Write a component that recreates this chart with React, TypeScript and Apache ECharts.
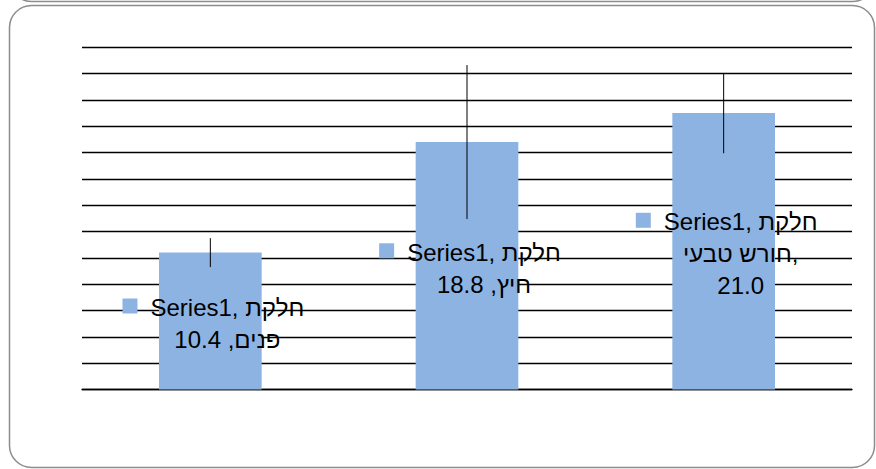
import React, { useEffect, useRef } from "react";
import * as echarts from "echarts";

const seriesName = "Series1";
const categories = ["חלקת פנים", "חלקת חיץ", "חלקת חורש טבעי"];
const values = [10.4, 18.8, 21.0];
const errors = [1.1, 5.85, 3.05];
const yMin = 0;
const yMax = 26;
const yInterval = 2;

const BAR_COLOR = "#8DB3E2";
const FONT_FAMILY = '"Liberation Sans", Arial, sans-serif';
const FONT_SIZE = 24;
const LINE_H = 32;
const WRAP_W = 158;

function measure(text: string): number {
  const c = document.createElement("canvas").getContext("2d");
  if (!c) return text.length * FONT_SIZE * 0.55;
  c.font = `${FONT_SIZE}px ${FONT_FAMILY}`;
  return c.measureText(text).width;
}

function wrap(text: string): string[] {
  const words = text.split(" ");
  const lines: string[] = [];
  let line = "";
  for (const w of words) {
    const test = line ? line + " " + w : w;
    if (line && measure(test) > WRAP_W) {
      lines.push(line);
      line = w;
    } else {
      line = test;
    }
  }
  if (line) lines.push(line);
  return lines;
}

export default function App() {
  const ref = useRef<HTMLDivElement>(null);

  useEffect(() => {
    if (!ref.current) return;
    const chart = echarts.init(ref.current, null, { renderer: "svg" });

    const labelLines = categories.map((c, i) =>
      wrap(`${seriesName}, ${c}, ${values[i].toFixed(1)}`)
    );

    const renderItem = (params: any, api: any) => {
      const i = params.dataIndex;
      const v = api.value(1);
      const e = api.value(2);
      const head = api.coord([i, v]);
      const base = api.coord([i, 0]);
      const top = api.coord([i, v + e]);
      const bot = api.coord([i, v - e]);
      const cx = head[0];
      const lines = labelLines[i];
      const n = lines.length;
      const midY = (head[1] + base[1]) / 2 + 2.5;
      const tcx = cx + 17;
      const y0 = midY - ((n - 1) / 2) * LINE_H;
      const w1 = measure(lines[0]);
      const children: any[] = [
        {
          type: "line",
          shape: { x1: cx, y1: top[1], x2: cx, y2: bot[1] },
          style: { stroke: "#000", lineWidth: 1 },
        },
        {
          type: "rect",
          shape: { x: tcx - w1 / 2 - 13 - 15, y: y0 - 9, width: 15, height: 15 },
          style: { fill: BAR_COLOR },
        },
      ];
      lines.forEach((t, k) => {
        children.push({
          type: "text",
          x: tcx,
          y: y0 + k * LINE_H,
          style: {
            text: t,
            fill: "#000",
            fontSize: FONT_SIZE,
            fontFamily: FONT_FAMILY,
            align: "center",
            verticalAlign: "middle",
          },
        });
      });
      return { type: "group", children };
    };

    chart.setOption({
      animation: false,
      grid: { left: 82, right: 24, top: 47.3, bottom: 79.5 },
      xAxis: {
        type: "category",
        data: categories,
        axisLine: { show: true, lineStyle: { color: "#000", width: 1.3 } },
        axisTick: { show: false },
        axisLabel: { show: false },
        splitLine: { show: false },
      },
      yAxis: {
        type: "value",
        min: yMin,
        max: yMax,
        interval: yInterval,
        axisLine: { show: false },
        axisTick: { show: false },
        axisLabel: { show: false },
        splitLine: { show: true, lineStyle: { color: "#000", width: 1.3 } },
      },
      graphic: [
        {
          type: "rect",
          shape: { x: 9.5, y: -460.5, width: 865, height: 462, r: 22 },
          style: { fill: "none", stroke: "#8c8c8c", lineWidth: 1.5 },
          silent: true,
        },
        {
          type: "rect",
          shape: { x: 9.5, y: 5.5, width: 865, height: 462, r: 22 },
          style: { fill: "none", stroke: "#8c8c8c", lineWidth: 1.5 },
          silent: true,
        },
      ],
      series: [
        {
          type: "bar",
          name: seriesName,
          data: values,
          barWidth: "40%",
          itemStyle: { color: BAR_COLOR },
          z: 2,
        },
        {
          type: "custom",
          name: seriesName + " labels",
          data: values.map((v, i) => [i, v, errors[i]]),
          renderItem,
          z: 5,
        },
      ],
    });

    return () => chart.dispose();
  }, []);

  return (
    <div
      ref={ref}
      style={{ position: "fixed", left: 0, top: 0, width: 876, height: 469, background: "#fff" }}
    />
  );
}
